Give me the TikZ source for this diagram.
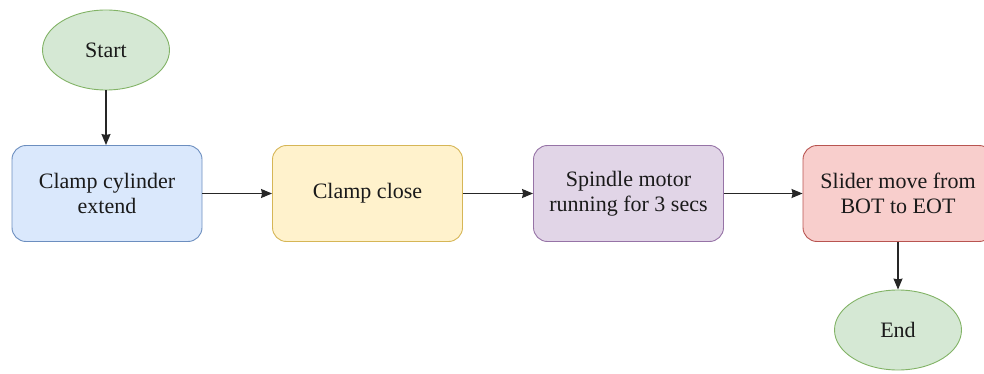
\documentclass[tikz,border=0pt]{standalone}
\usepackage{fontspec}
\setmainfont{Liberation Serif}
\usetikzlibrary{shapes.geometric,arrows.meta}
\definecolor{gfill}{HTML}{D5E8D4}\definecolor{gdraw}{HTML}{82B366}
\definecolor{bfill}{HTML}{DAE8FC}\definecolor{bdraw}{HTML}{6C8EBF}
\definecolor{yfill}{HTML}{FFF2CC}\definecolor{ydraw}{HTML}{D6B656}
\definecolor{pfill}{HTML}{E1D5E7}\definecolor{pdraw}{HTML}{9673A6}
\definecolor{rfill}{HTML}{F8CECC}\definecolor{rdraw}{HTML}{B85450}
\definecolor{txt}{HTML}{1A1A1A}
\tikzset{
  term/.style={ellipse, draw=gdraw, fill=gfill, line width=0.9pt, minimum width=127pt, minimum height=80pt, inner sep=0pt, text=txt, font=\fontsize{22}{25}\selectfont},
  procbox/.style={rectangle, rounded corners=14pt, line width=0.9pt, minimum width=190pt, minimum height=96pt, inner sep=0pt, align=center, text=txt, font=\fontsize{22}{25}\selectfont},
  link/.style={line width=1.3pt, draw=black!85, -{Stealth[length=11pt,width=9pt,inset=1pt]}}
}
\begin{document}
\begin{tikzpicture}[x=1pt,y=-1pt]
\useasboundingbox (0,0) rectangle (984,374);
\node[term] (start) at (106,50) {Start};
\node[procbox, draw=bdraw, fill=bfill] (b1) at (107,193.5) {Clamp cylinder\\extend};
\node[procbox, draw=ydraw, fill=yfill] (b2) at (367.5,193.5) {Clamp close};
\node[procbox, draw=pdraw, fill=pfill] (b3) at (628.5,193.5) {Spindle motor\\running for 3 secs};
\node[procbox, draw=rdraw, fill=rfill] (b4) at (898,193.5) {Slider move from\\BOT to EOT};
\node[term] (end) at (898,330) {End};
\draw[link] (start) -- (start|-b1.north);
\draw[link] (b1) -- (b2);
\draw[link] (b2) -- (b3);
\draw[link] (b3) -- (b4);
\draw[link] (b4.south-|end) -- (end);
\end{tikzpicture}
\end{document}
